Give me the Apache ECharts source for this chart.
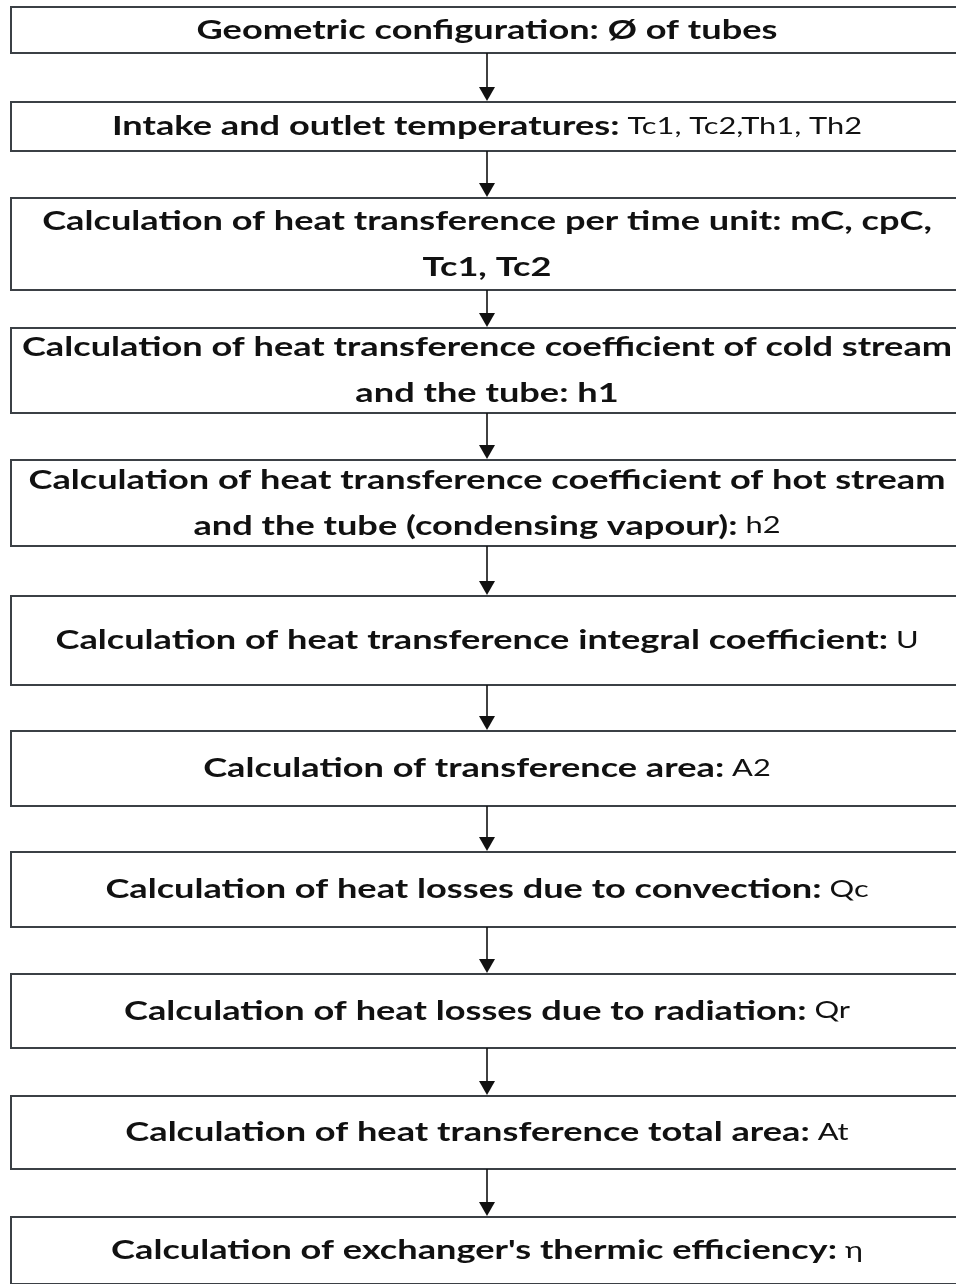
<!DOCTYPE html>
<html>
<head>
<meta charset="utf-8">
<script src="https://cdn.jsdelivr.net/npm/echarts@6/dist/echarts.min.js"></script>
<style>
html, body { margin: 0; background: #fff; }
#chart { width: 956px; height: 1284px; }
</style>
</head>
<body>
<div id="chart"></div>
<script>
// bold part of each step
const steps = [
	'Geometric configuration: Ø of tubes',
	'Intake and outlet temperatures:',
	'Calculation of heat transference per time unit: mC, cpC,\nTc1, Tc2',
	'Calculation of heat transference coefficient of cold stream\nand the tube: h1',
	'Calculation of heat transference coefficient of hot stream\nand the tube (condensing vapour):',
	'Calculation of heat transference integral coefficient:',
	'Calculation of transference area:',
	'Calculation of heat losses due to convection:',
	'Calculation of heat losses due to radiation:',
	'Calculation of heat transference total area:',
	'Calculation of exchanger\'s thermic efficiency:'
]
// regular-weight variable names after the colon
const variables = ['', ' Tc1, Tc2,Th1, Th2', '', '', ' h2', ' U', ' A2', ' Qc', ' Qr', ' At', ' η']

// vertical extent of each box (page units on the hidden y axis)
const boxTop = [7, 102, 198, 328, 460, 596, 731, 852, 974, 1096, 1217]
const boxBottom = [53, 151, 290, 413, 546, 685, 806, 927, 1048, 1169, 1284]

const centerX = 487
const boxLeft = 11
const boxRight = 990

const chart = echarts.init(document.getElementById('chart'))

function renderItem(params, api) {
	const i = params.dataIndex
	const tl = api.coord([boxLeft, api.value(1)])
	const br = api.coord([boxRight, api.value(2)])
	const cx = api.coord([centerX, 0])[0]
	const children = [{
		type: 'rect',
		shape: { x: tl[0], y: tl[1], width: br[0] - tl[0], height: br[1] - tl[1] },
		style: { fill: '#fff', stroke: '#3b4045', lineWidth: 2 }
	}, {
		type: 'text',
		x: cx,
		y: (tl[1] + br[1]) / 2,
		// the source text is wide and heavy, so stretch it sideways
		scaleX: 1.34,
		style: {
			x: 0,
			y: 0,
			align: 'center',
			verticalAlign: 'middle',
			text: steps[i].split('\n').map(s => '{b|' + s + '}').join('\n') +
				(variables[i] ? '{r|' + variables[i] + '}' : ''),
			rich: {
				b: { fontFamily: 'Lato', fontWeight: 'bold', fontSize: 27, lineHeight: 46, fill: '#111' },
				r: { fontFamily: 'Lato', fontSize: 23, lineHeight: 46, fill: '#111' }
			}
		}
	}]
	if (i < steps.length - 1) {
		const next = api.coord([centerX, boxTop[i + 1]])
		children.push({
			type: 'line',
			shape: { x1: cx, y1: br[1], x2: cx, y2: next[1] - 12 },
			style: { stroke: '#111', lineWidth: 1.6 }
		}, {
			type: 'polygon',
			shape: { points: [[cx - 8, next[1] - 15], [cx + 8, next[1] - 15], [cx, next[1] - 1]] },
			style: { fill: '#111' }
		})
	}
	return { type: 'group', children }
}

chart.setOption({
	animation: false,
	grid: { left: 0, right: 0, top: 0, bottom: 0 },
	xAxis: { type: 'value', min: 0, max: 956, show: false },
	yAxis: { type: 'value', min: 0, max: 1284, inverse: true, show: false },
	series: [{
		type: 'custom',
		clip: true,
		renderItem,
		data: steps.map((s, i) => [centerX, boxTop[i], boxBottom[i]])
	}]
})
</script>
</body>
</html>
